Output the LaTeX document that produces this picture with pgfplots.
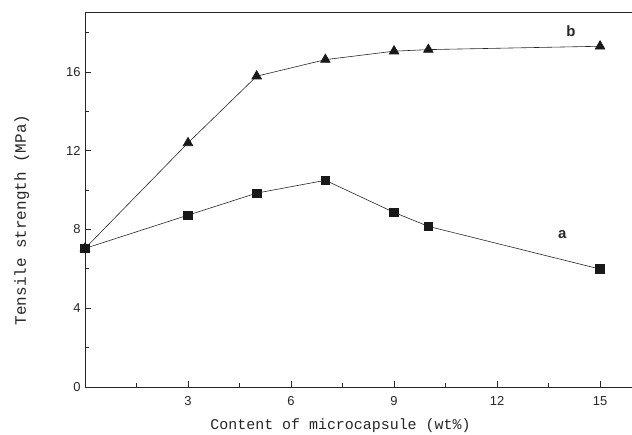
\documentclass[border=0pt]{standalone}
\usepackage{fontspec}
\setmainfont{Liberation Sans}
\newfontfamily\labelfont{Liberation Mono}
\usepackage{pgfplots}
\pgfplotsset{compat=1.18}

\pgfplotstableread{
x   y
0   7.04
3   8.73
5   9.85
7   10.50
9   8.87
10  8.16
15  5.99
}\seriesa

\pgfplotstableread{
x   y
0   7.04
3   12.40
5   15.79
7   16.63
9   17.06
10  17.14
15  17.31
}\seriesb

\begin{document}
\begin{tikzpicture}[x=1bp,y=1bp]
\begin{axis}[
    scale only axis,
    width=547bp, height=374bp,
    xmin=0, xmax=15.93,
    ymin=0, ymax=19,
    axis x line*=box,
    axis y line*=left,
    axis line style={line width=1pt, black!85},
    xtick={3,6,9,12,15},
    minor xtick={1.5,4.5,7.5,10.5,13.5},
    ytick={0,4,8,12,16},
    minor ytick={2,6,10,14,18},
    tick align=inside,
    xtick pos=bottom, ytick pos=left,
    major tick length=6bp, minor tick length=4bp,
    tick style={line width=0.8pt, black!85},
    ticklabel style={font=\fontsize{13}{15}\selectfont, text=black!85},
    /pgf/number format/assume math mode=true,
    xticklabel style={yshift=-6bp},
    yticklabel style={xshift=-1bp},
    xlabel={\labelfont\fontsize{15}{17}\selectfont Content of microcapsule (wt\%)},
    ylabel={\labelfont\fontsize{16}{18}\selectfont Tensile strength (MPa)},
    xlabel style={text=black!85, yshift=-6bp, xshift=-18bp},
    ylabel style={text=black!85, yshift=30bp, xshift=-20bp},
    clip=false,
]
\addplot[black!85, line width=0.6pt, mark=square*, mark size=4.3bp,
    mark options={fill=black!90, draw=black!90}] table[x=x,y=y] {\seriesa};
\addplot[black!85, line width=0.6pt, mark=triangle*, mark size=5.6bp,
    mark options={fill=black!90, draw=black!90}] table[x=x,y=y] {\seriesb};
\node[font=\fontsize{15}{17}\selectfont\bfseries, text=black!85] at (axis cs:14.15,18.07) {b};
\node[font=\fontsize{15}{17}\selectfont\bfseries, text=black!85] at (axis cs:13.9,7.75) {a};
\coordinate (bl) at (rel axis cs:0,0);
\end{axis}
\pgfresetboundingbox
\path (bl) ++(-85bp,-48bp) rectangle ++(632bp,435bp);
\end{tikzpicture}
\end{document}
